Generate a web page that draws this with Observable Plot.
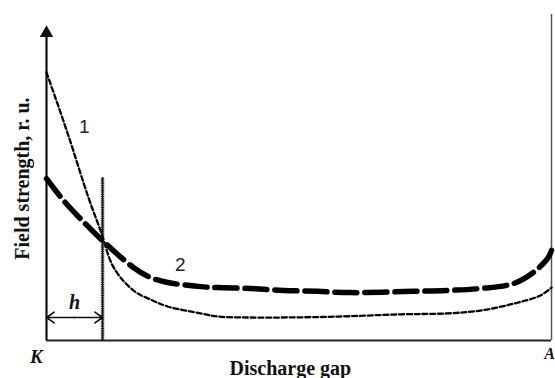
<!DOCTYPE html>
<html>
<head>
<meta charset="utf-8">
<script src="https://cdn.jsdelivr.net/npm/d3@7"></script>
<script src="https://cdn.jsdelivr.net/npm/@observablehq/plot@0.6"></script>
<style>
  html, body { margin: 0; padding: 0; background: #fff; }
  #chart svg { display: block; }
</style>
</head>
<body>
<div id="chart"></div>
<script>
// Curve 1 (thin dotted): position along discharge gap (K=0 .. A=1) and field strength (r.u.)
const gap1   = [0, 0.042, 0.083, 0.107, 0.133, 0.172, 0.206, 0.240, 0.305, 0.339, 0.404, 0.556, 0.701, 0.794, 0.859, 0.925, 0.978, 1.0];
const field1 = [8.51, 6.57, 4.54, 3.49, 2.32, 1.59, 1.30, 1.08, 0.86, 0.76, 0.73, 0.75, 0.83, 0.86, 0.95, 1.17, 1.43, 1.68];
// Curve 2 (thick dashed)
const gap2   = [0, 0.034, 0.067, 0.111, 0.172, 0.206, 0.240, 0.305, 0.339, 0.404, 0.469, 0.537, 0.602, 0.727, 0.794, 0.859, 0.925, 0.964, 0.992, 1.0];
const field2 = [5.14, 4.44, 3.87, 3.17, 2.32, 2.00, 1.84, 1.71, 1.68, 1.65, 1.59, 1.56, 1.52, 1.56, 1.59, 1.65, 1.81, 2.16, 2.60, 2.86];
// Cathode layer thickness h and its marker
const hGap = [0.111];
const hTop = [5.17];
const hArrowLevel = [0.73];
// Labels
const curveLabels = ["1", "2"];
const curveLabelX = [0.075, 0.265];
const curveLabelY = [6.79, 2.41];

const c1 = gap1.map((g, i) => ({x: g, y: field1[i]}));
const c2 = gap2.map((g, i) => ({x: g, y: field2[i]}));
const lbl = curveLabels.map((t, i) => ({t, x: curveLabelX[i], y: curveLabelY[i]}));

const serif = "'Liberation Serif', 'Times New Roman', serif";
const sans = "'Liberation Sans', Arial, sans-serif";

const chart = Plot.plot({
  width: 555,
  height: 378,
  marginLeft: 46,
  marginRight: 4,
  marginTop: 25,
  marginBottom: 38,
  x: {domain: [0, 1], axis: null},
  y: {domain: [0, 10], axis: null},
  style: {background: "#fff"},
  marks: [
    // x axis (discharge gap) and anode boundary
    Plot.ruleY([0], {x1: 0, x2: 1, stroke: "#222", strokeWidth: 1.8}),
    Plot.ruleX([1], {y1: 0, y2: 10.35, stroke: "#555", strokeWidth: 1.5}),
    // y axis with arrow head
    Plot.ruleX([0], {y1: 0, y2: 9.7, stroke: "#111", strokeWidth: 2.2}),
    Plot.dot([{x: 0, y: 10}], {x: "x", y: "y", symbol: "triangle", r: 5, fill: "#111", stroke: null, dy: 7.5}),
    // cathode layer boundary
    Plot.ruleX(hGap, {y1: 0, y2: hTop[0], stroke: "#111", strokeWidth: 1.8}),
    Plot.ruleX(hGap, {y1: 0, y2: hTop[0], stroke: "#222", strokeWidth: 3.6, strokeDasharray: "1,1.2"}),
    // h double arrow
    Plot.arrow([{x1: hGap[0] / 2, x2: 0, y: hArrowLevel[0]}, {x1: hGap[0] / 2, x2: hGap[0], y: hArrowLevel[0]}],
      {x1: "x1", x2: "x2", y1: "y", y2: "y", stroke: "#111", strokeWidth: 1.7, headLength: 9, headAngle: 70}),
    // curves
    Plot.line(c1, {x: "x", y: "y", curve: "catmull-rom", stroke: "#000", strokeWidth: 2.3, strokeDasharray: "5,2.8"}),
    Plot.line(c2, {x: "x", y: "y", curve: "catmull-rom", stroke: "#000", strokeWidth: 5.5, strokeDasharray: "22,8"}),
    // curve labels
    Plot.text(lbl, {x: "x", y: "y", text: "t", fontSize: 19, fontFamily: sans, fill: "#222"}),
    // h label
    Plot.text(["h"], {x: hGap[0] / 2, y: 1.21, text: d => d, fontSize: 20, fontWeight: "bold", fontStyle: "italic", fontFamily: serif, fill: "#111"}),
    // electrode labels
    Plot.text(["K"], {x: -0.02, y: -0.51, text: d => d, fontSize: 19, fontWeight: "bold", fontStyle: "italic", fontFamily: serif, fill: "#111"}),
    Plot.text(["A"], {x: 0.996, y: -0.44, text: d => d, fontSize: 16, fontWeight: "bold", fontStyle: "italic", fontFamily: serif, fill: "#111"}),
    // axis titles
    Plot.text(["Discharge gap"], {x: 0.483, y: -0.89, text: d => d, fontSize: 20, fontWeight: "bold", fontFamily: serif, fill: "#111"}),
    Plot.text(["Field strength, r. u."], {x: -0.048, y: 5.14, text: d => d, rotate: -90, fontSize: 20, fontWeight: "bold", fontFamily: serif, fill: "#111"})
  ]
});
document.getElementById("chart").appendChild(chart);
</script>
</body>
</html>
